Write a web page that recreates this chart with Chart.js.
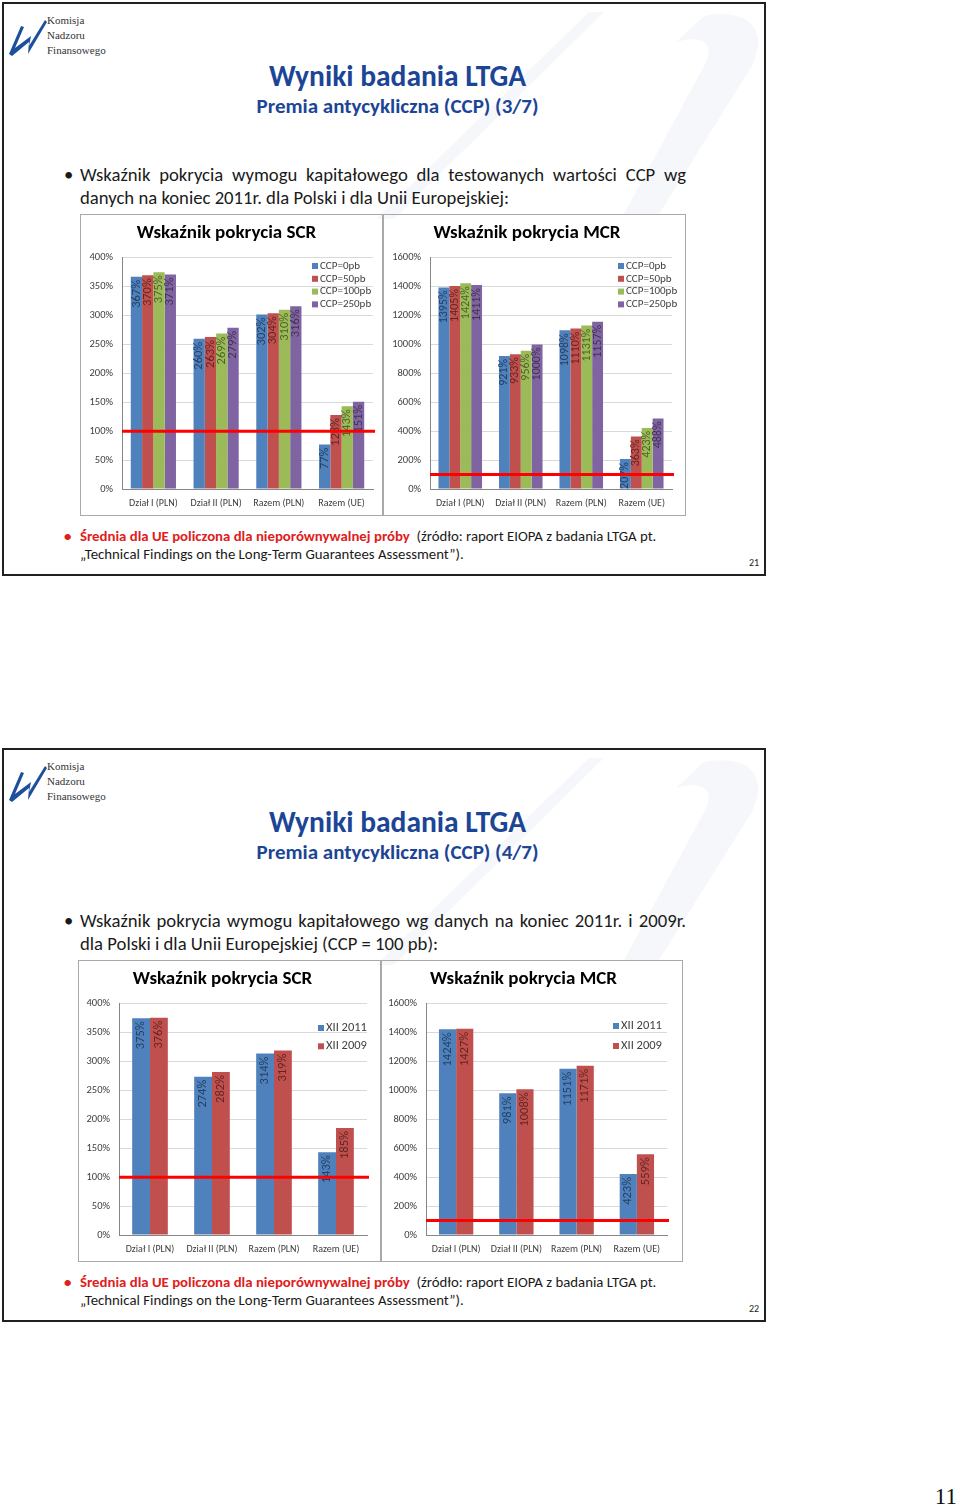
<!DOCTYPE html>
<html lang="pl">
<head>
<meta charset="utf-8">
<title>Wyniki badania LTGA</title>
<script src="https://cdn.jsdelivr.net/npm/chart.js@4/dist/chart.umd.min.js"></script>
<style>
  html, body { margin: 0; padding: 0; background: #fff; }
  body { width: 960px; height: 1507px; position: relative; overflow: hidden;
         font-family: Carlito, Lato, "Open Sans", sans-serif; color: #1a1a1a; }
  .slide { position: absolute; left: 2px; width: 764px; height: 574px;
           border: 2px solid #202020; box-sizing: border-box; overflow: hidden; }
  .abs { position: absolute; white-space: nowrap; }
  .wm { left: 0; top: 0; }
  .logo-txt { font-family: "Liberation Serif", "DejaVu Serif", serif; font-size: 11px;
              color: #333; line-height: 15px; left: 43px; top: 9px; }
  .title { left: 0; width: 787px; text-align: center; color: #1c4596; font-weight: bold; }
  .t1 { top: 54px; font-size: 29.5px; }
  .t2 { top: 89px; font-size: 21px; }
  .bullet { font-size: 18.7px; line-height: 23px; }
  .dot { left: 60px; }
  .line { left: 76px; }
  .just { width: 606px; text-align: justify; text-align-last: justify; }
  .foot { font-size: 14.8px; line-height: 18px; }
  .red { color: #e0201b; font-weight: bold; }
  .pnum { font-size: 10px; color: #222; }
  canvas { position: absolute; outline: 1px solid #a9a9a9; outline-offset: -1px; }
  .page { position: absolute; right: 3px; top: 1484px; font-family: "Liberation Serif", serif;
          font-size: 23px; color: #111; }
</style>
</head>
<body>

<div class="slide" style="top:2px">
  <svg class="abs wm" width="764" height="574">
    <path d="M372 215 L585 8 L600 8 L390 215 Z" fill="#f6f7fa"/>
    <path d="M700 12 C745 4 765 25 748 62 L655 210 L620 210 L700 62 C712 40 700 30 672 38 Z" fill="#f6f7fa"/>
  </svg>
  <svg class="abs" style="left:3px;top:12px" width="42" height="42" viewBox="0 0 42 42">
    <path d="M2 38 L14 10 L17 11 L8 32 L24 20 L22 30 L38 4 L40 6 L21 38 L22 26 L5 40 Z" fill="#1e4f9c"/>
  </svg>
  <div class="abs logo-txt">Komisja<br>Nadzoru<br>Finansowego</div>
  <div class="abs title t1">Wyniki badania LTGA</div>
  <div class="abs title t2">Premia antycykliczna (CCP) (3/7)</div>
  <div class="abs bullet dot" style="top:159px">•</div>
  <div class="abs bullet line just" style="top:159px">Wskaźnik pokrycia wymogu kapitałowego dla testowanych wartości CCP wg</div>
  <div class="abs bullet line" style="top:182px">danych na koniec 2011r. dla Polski i dla Unii Europejskiej:</div>
  <canvas id="scrCcp" width="304" height="302" style="left:76px;top:210px"></canvas>
  <canvas id="mcrCcp" width="304" height="302" style="left:378px;top:210px"></canvas>
  <div class="abs foot dot red" style="top:523px">•</div>
  <div class="abs foot line" style="top:523px"><span class="red">Średnia dla UE policzona dla nieporównywalnej próby</span>&nbsp; (źródło: raport EIOPA z badania LTGA pt.</div>
  <div class="abs foot line" style="top:541px">„Technical Findings on the Long-Term Guarantees Assessment”).</div>
  <div class="abs pnum" style="left:745px;top:552px">21</div>
</div>

<div class="slide" style="top:748px">
  <svg class="abs wm" width="764" height="574">
    <path d="M372 215 L585 8 L600 8 L390 215 Z" fill="#f6f7fa"/>
    <path d="M700 12 C745 4 765 25 748 62 L655 210 L620 210 L700 62 C712 40 700 30 672 38 Z" fill="#f6f7fa"/>
  </svg>
  <svg class="abs" style="left:3px;top:12px" width="42" height="42" viewBox="0 0 42 42">
    <path d="M2 38 L14 10 L17 11 L8 32 L24 20 L22 30 L38 4 L40 6 L21 38 L22 26 L5 40 Z" fill="#1e4f9c"/>
  </svg>
  <div class="abs logo-txt">Komisja<br>Nadzoru<br>Finansowego</div>
  <div class="abs title t1">Wyniki badania LTGA</div>
  <div class="abs title t2">Premia antycykliczna (CCP) (4/7)</div>
  <div class="abs bullet dot" style="top:159px">•</div>
  <div class="abs bullet line just" style="top:159px">Wskaźnik pokrycia wymogu kapitałowego wg danych na koniec 2011r. i 2009r.</div>
  <div class="abs bullet line" style="top:182px">dla Polski i dla Unii Europejskiej (CCP = 100 pb):</div>
  <canvas id="scrYear" width="304" height="302" style="left:74px;top:210px"></canvas>
  <canvas id="mcrYear" width="303" height="302" style="left:376px;top:210px"></canvas>
  <div class="abs foot dot red" style="top:523px">•</div>
  <div class="abs foot line" style="top:523px"><span class="red">Średnia dla UE policzona dla nieporównywalnej próby</span>&nbsp; (źródło: raport EIOPA z badania LTGA pt.</div>
  <div class="abs foot line" style="top:541px">„Technical Findings on the Long-Term Guarantees Assessment”).</div>
  <div class="abs pnum" style="left:745px;top:552px">22</div>
</div>

<div class="page">11</div>

<script>
// --- data ---
const categories = ['Dział I (PLN)', 'Dział II (PLN)', 'Razem (PLN)', 'Razem (UE)'];

const ccpLabels = ['CCP=0pb', 'CCP=50pb', 'CCP=100pb', 'CCP=250pb'];
const scrCcp0 = [367, 260, 302, 77];
const scrCcp50 = [370, 263, 304, 128];
const scrCcp100 = [375, 269, 310, 143];
const scrCcp250 = [371, 279, 316, 151];
const mcrCcp0 = [1395, 921, 1098, 207];
const mcrCcp50 = [1405, 933, 1110, 363];
const mcrCcp100 = [1424, 956, 1131, 423];
const mcrCcp250 = [1411, 1000, 1157, 488];

const yearLabels = ['XII 2011', 'XII 2009'];
const scr2011 = [375, 274, 314, 143];
const scr2009 = [376, 282, 319, 185];
const mcr2011 = [1424, 981, 1151, 423];
const mcr2009 = [1427, 1008, 1171, 559];

const scrTicks = { max: 400, step: 50 };
const mcrTicks = { max: 1600, step: 200 };
const minRequirement = 100;   // red line, 100% coverage

// --- colours (Excel 2007 palette) ---
const fills = ['#4f81bd', '#c0504d', '#9bbb59', '#8064a2'];
const darks = ['#244062', '#632523', '#4f6228', '#403152'];
const FONT = 'Carlito, Lato, sans-serif';

// data labels, red threshold line and a legend inside the plot
const barExtras = {
    id: 'barExtras',
    afterDatasetsDraw(chart, args, opts) {
        const { ctx, chartArea, scales } = chart;
        ctx.save();
        ctx.font = opts.labelFont;
        ctx.textAlign = 'right';
        ctx.textBaseline = 'middle';
        chart.data.datasets.forEach((ds, i) => {
            const meta = chart.getDatasetMeta(i);
            ctx.fillStyle = darks[i];
            meta.data.forEach((bar, j) => {
                ctx.save();
                ctx.translate(bar.x, bar.y + 3);
                ctx.rotate(-Math.PI / 2);
                ctx.fillText(ds.data[j] + '%', 0, 0);
                ctx.restore();
            });
        });

        const y = scales.y.getPixelForValue(opts.threshold);
        ctx.strokeStyle = '#ff0000';
        ctx.lineWidth = 3;
        ctx.beginPath();
        ctx.moveTo(chartArea.left, y);
        ctx.lineTo(chartArea.right + 2, y);
        ctx.stroke();

        // legend
        ctx.font = opts.legendFont;
        ctx.textAlign = 'left';
        chart.data.datasets.forEach((ds, i) => {
            const ly = opts.legendY + i * opts.legendStep;
            ctx.fillStyle = ds.backgroundColor;
            ctx.fillRect(opts.legendX, ly - 3, 6, 6);
            ctx.fillStyle = '#404040';
            ctx.fillText(ds.label, opts.legendX + 8, ly);
        });
        ctx.restore();
    }
};

function makeChart(id, title, labels, series, ticks, look) {
    new Chart(document.getElementById(id), {
        type: 'bar',
        data: {
            labels: categories,
            datasets: series.map((d, i) => ({
                label: labels[i],
                data: d,
                backgroundColor: fills[i],
                borderWidth: 0,
                categoryPercentage: look.catPct,
                barPercentage: 1
            }))
        },
        options: {
            responsive: false,
            animation: false,
            devicePixelRatio: 1,
            layout: { padding: { left: 0, right: look.padRight, top: 0, bottom: 0 } },
            plugins: {
                legend: { display: false },
                tooltip: { enabled: false },
                title: {
                    display: true,
                    text: title,
                    color: '#000',
                    font: { family: FONT, size: 19, weight: 'bold' },
                    padding: { top: 8, bottom: 13 }
                },
                barExtras: {
                    threshold: minRequirement,
                    labelFont: look.labelFont,
                    legendFont: look.legendFont,
                    legendX: look.legendX,
                    legendY: look.legendY,
                    legendStep: look.legendStep
                }
            },
            scales: {
                x: {
                    grid: { display: false, drawTicks: false },
                    border: { color: '#868686' },
                    ticks: { color: '#404040', padding: 8, font: { family: FONT, size: 10 } },
                    afterFit(s) { s.height = 27; }
                },
                y: {
                    min: 0,
                    max: ticks.max,
                    grid: { color: '#d9d9d9', drawTicks: false },
                    border: { color: '#868686' },
                    ticks: {
                        stepSize: ticks.step,
                        color: '#404040',
                        padding: 9,
                        font: { family: FONT, size: 10.5 },
                        callback: v => v + '%'
                    },
                    afterFit(s) { s.width = look.axisWidth; }
                }
            }
        },
        plugins: [barExtras]
    });
}

makeChart('scrCcp', 'Wskaźnik pokrycia SCR', ccpLabels,
    [scrCcp0, scrCcp50, scrCcp100, scrCcp250], scrTicks,
    { catPct: 0.72, padRight: 11, axisWidth: 42, labelFont: '12.5px ' + FONT,
      legendFont: '11px ' + FONT, legendX: 232, legendY: 52, legendStep: 12.8 });
makeChart('mcrCcp', 'Wskaźnik pokrycia MCR', ccpLabels,
    [mcrCcp0, mcrCcp50, mcrCcp100, mcrCcp250], mcrTicks,
    { catPct: 0.72, padRight: 14, axisWidth: 48, labelFont: '12px ' + FONT,
      legendFont: '11px ' + FONT, legendX: 236, legendY: 52, legendStep: 12.8 });
makeChart('scrYear', 'Wskaźnik pokrycia SCR', yearLabels,
    [scr2011, scr2009], scrTicks,
    { catPct: 0.575, padRight: 15, axisWidth: 41, labelFont: '12.5px ' + FONT,
      legendFont: '12.5px ' + FONT, legendX: 240, legendY: 68, legendStep: 18.3 });
makeChart('mcrYear', 'Wskaźnik pokrycia MCR', yearLabels,
    [mcr2011, mcr2009], mcrTicks,
    { catPct: 0.57, padRight: 16, axisWidth: 46, labelFont: '12.5px ' + FONT,
      legendFont: '12.5px ' + FONT, legendX: 233, legendY: 66, legendStep: 20 });
</script>
</body>
</html>
